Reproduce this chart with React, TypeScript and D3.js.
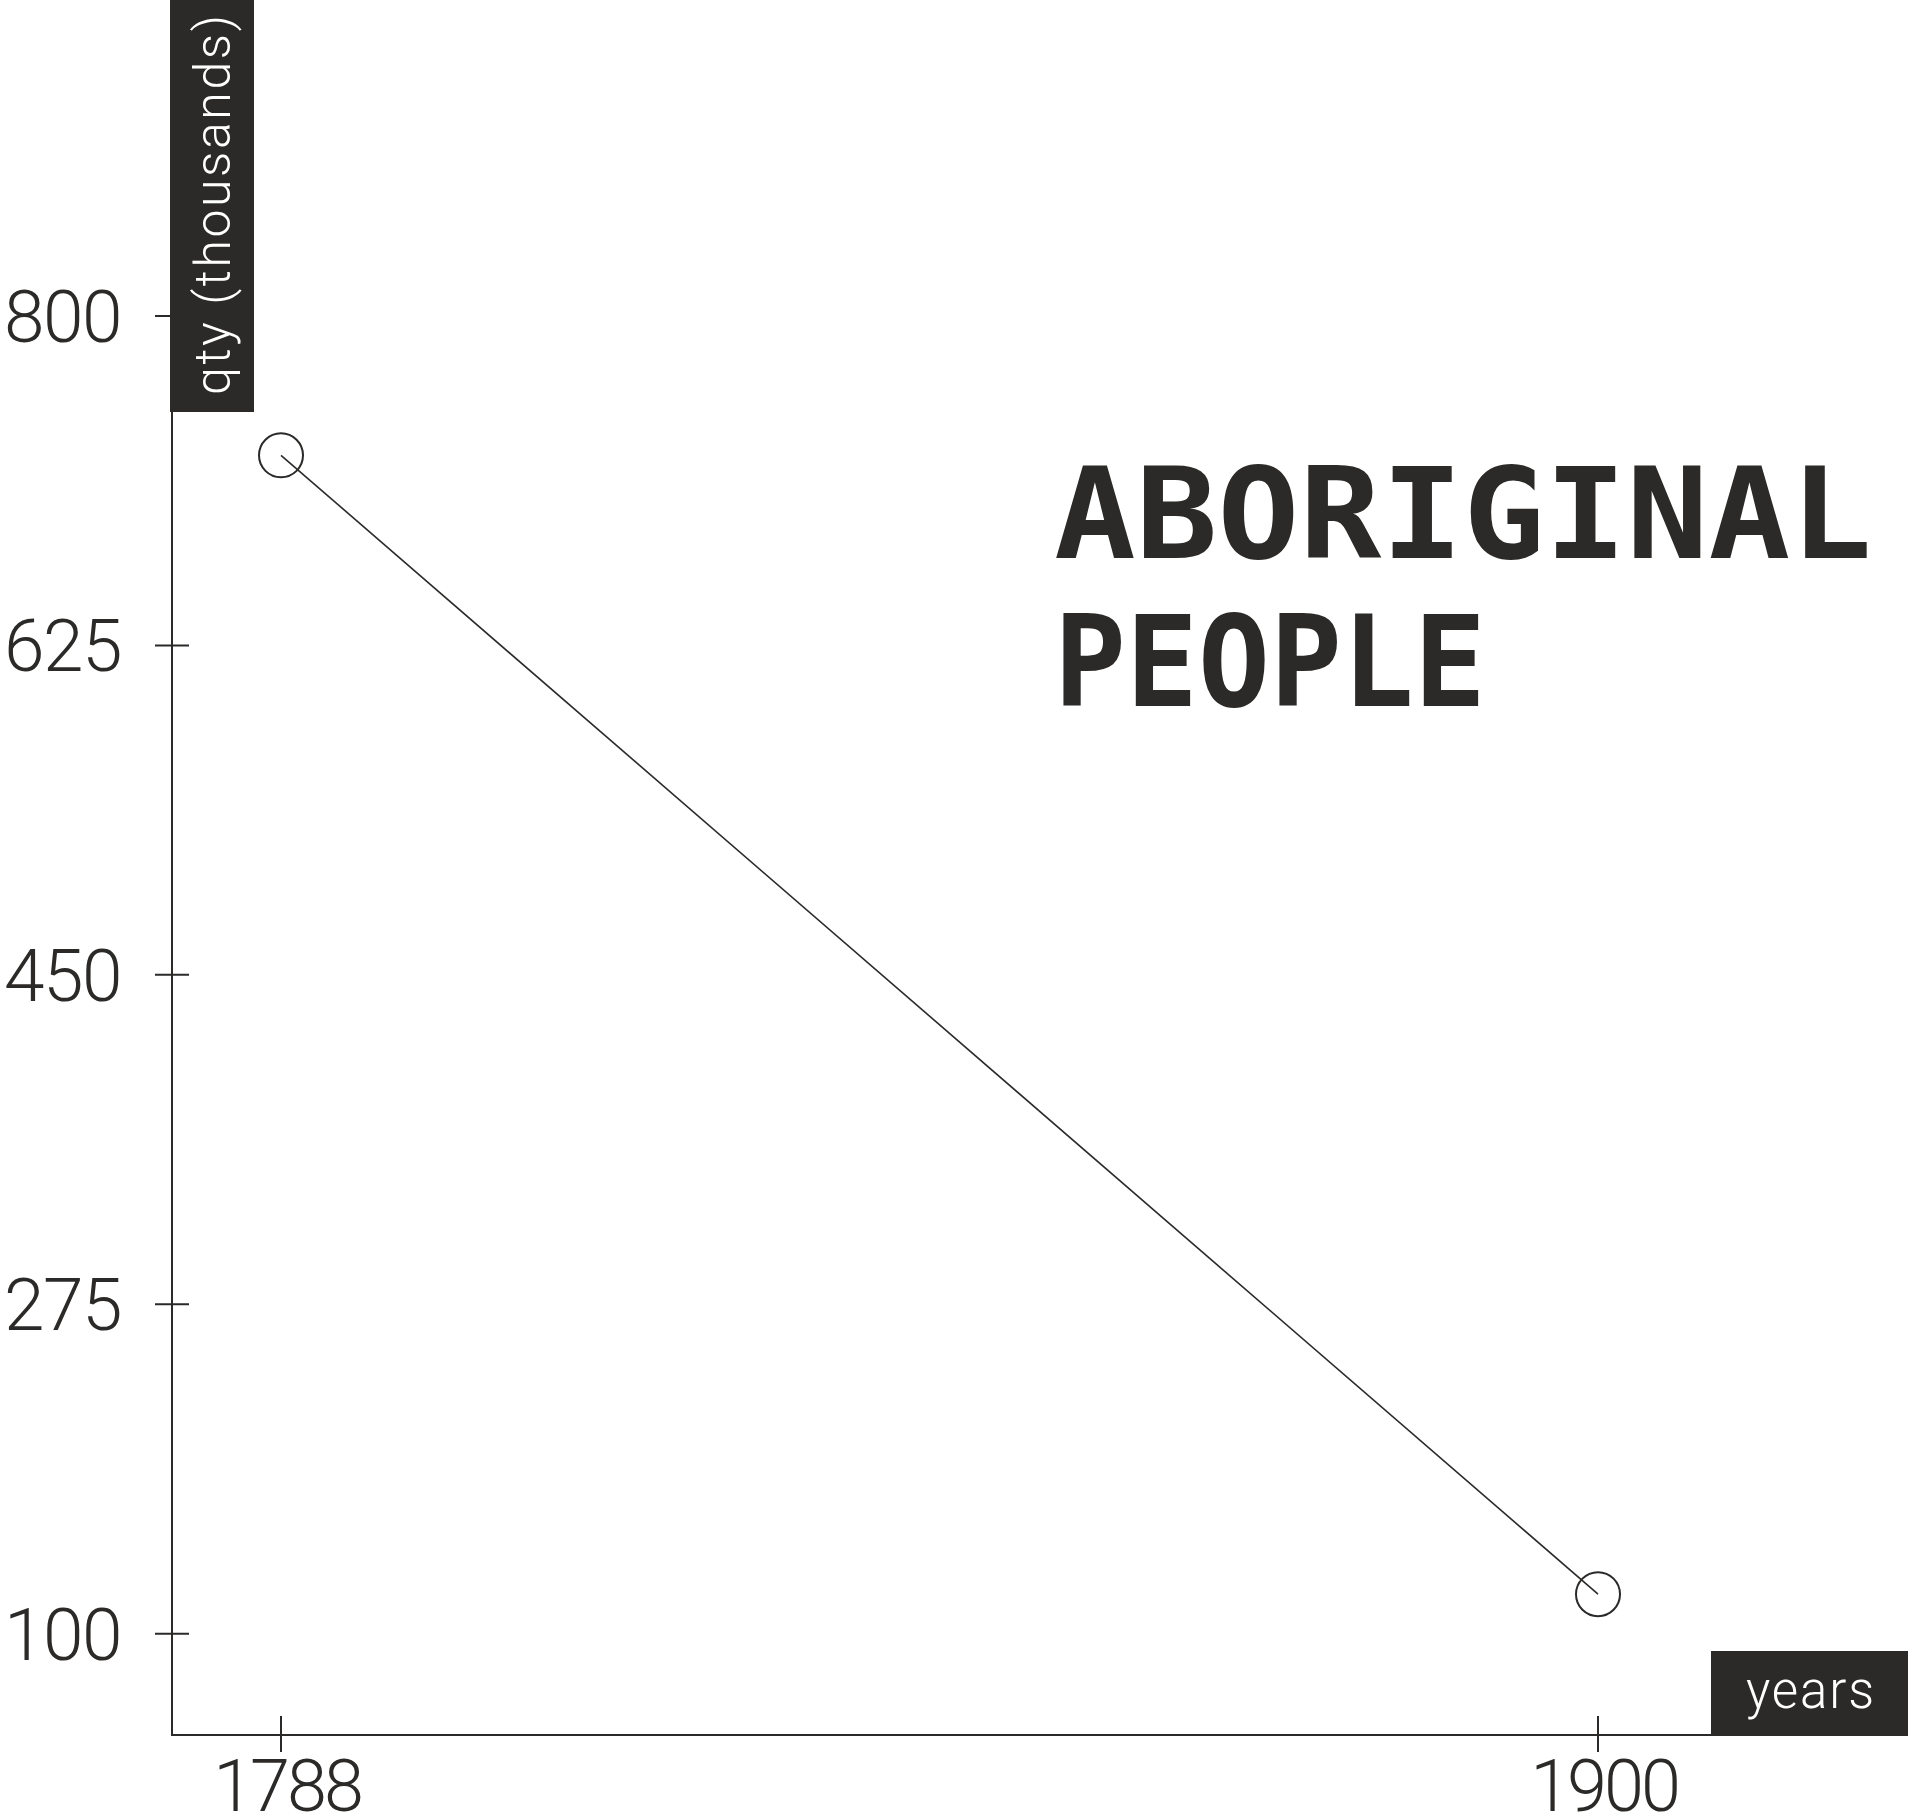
import { useLayoutEffect } from "react";
import * as d3 from "d3";

const years = [1788, 1900];
const population = [726, 121]; // thousands
const yTicks = [100, 275, 450, 625, 800];
const xTicks = [1788, 1900];
const titleLines = ["ABORIGINAL", "PEOPLE"];

const INK = "#2b2a28";
const width = 1908;
const height = 1820;

export const LineChart = () => {
    const axisX = 172;
    const axisY = 1735;

    const xScale = d3.scaleLinear().domain([1788, 1900]).range([281, 1598]);
    const yScale = d3.scaleLinear().domain([100, 800]).range([1633.7, 316]);

    const points = years.map((year, i) => [xScale(year), yScale(population[i])] as [number, number]);
    const linePath = d3.line()(points) ?? "";

    //
    // Axes
    //
    const yAxis = yTicks.map((t) => (
        <g key={t} transform={`translate(0,${yScale(t)})`}>
            <line x1={axisX - 17} x2={axisX + 17} stroke={INK} strokeWidth={2} />
            <text
                x={121}
                y={26}
                textAnchor="end"
                fontFamily="Roboto"
                fontWeight={300}
                fontSize={73}
                letterSpacing={-1.5}
                fill={INK}
            >
                {t}
            </text>
        </g>
    ));

    const xAxis = xTicks.map((t) => (
        <g key={t} transform={`translate(${xScale(t)},0)`}>
            <line y1={axisY - 19} y2={axisY + 17} stroke={INK} strokeWidth={2} />
            <text
                x={6}
                y={1811}
                textAnchor="middle"
                fontFamily="Roboto"
                fontWeight={300}
                fontSize={72}
                letterSpacing={-3}
                fill={INK}
            >
                {t}
            </text>
        </g>
    ));

    return (
        <svg width={width} height={height} style={{ display: "block", background: "#fff" }}>
            {/* axis lines */}
            <line x1={axisX} x2={axisX} y1={0} y2={axisY + 1} stroke={INK} strokeWidth={2} />
            <line x1={axisX} x2={width} y1={axisY} y2={axisY} stroke={INK} strokeWidth={2} />
            {yAxis}
            {xAxis}

            {/* y axis label box */}
            <rect x={170} y={0} width={84} height={412} fill={INK} />
            <text
                transform="translate(230,395) rotate(-90)"
                fontFamily="Roboto"
                fontWeight={300}
                fontSize={50}
                textLength={380}
                lengthAdjust="spacing"
                fill="#fff"
            >
                qty (thousands)
            </text>

            {/* x axis label box */}
            <rect x={1711} y={1651} width={width - 1711} height={axisY - 1651} fill={INK} />
            <text
                x={1746}
                y={1708}
                fontFamily="Roboto"
                fontWeight={300}
                fontSize={51}
                textLength={128}
                lengthAdjust="spacing"
                fill="#fff"
            >
                years
            </text>

            {/* data */}
            <path d={linePath} fill="none" stroke={INK} strokeWidth={1.6} />
            {points.map(([cx, cy], i) => (
                <circle key={i} cx={cx} cy={cy} r={22} fill="none" stroke={INK} strokeWidth={2} />
            ))}

            {/* title */}
            {titleLines.map((line, i) => (
                <text
                    key={line}
                    x={1054}
                    y={558 + i * 148}
                    fontFamily="DejaVu Sans Mono"
                    fontWeight={700}
                    fontSize={127}
                    textLength={i === 0 ? 818 : 432}
                    lengthAdjust="spacingAndGlyphs"
                    fill={INK}
                >
                    {line}
                </text>
            ))}
        </svg>
    );
};

export default function App() {
    useLayoutEffect(() => {
        document.body.style.margin = "0";
    }, []);
    return <LineChart />;
}
